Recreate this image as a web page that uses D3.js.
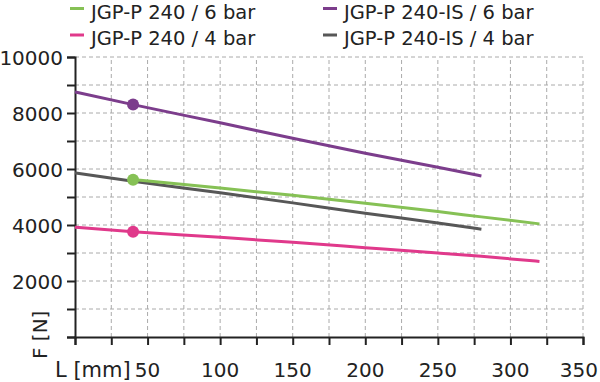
<!DOCTYPE html>
<html>
<head>
<meta charset="utf-8">
<script src="https://cdn.jsdelivr.net/npm/d3@7"></script>
<style>
  body { margin: 0; background: #fff; }
  svg text { font-family: "DejaVu Sans", sans-serif; fill: #222; }
</style>
</head>
<body>
<div id="chart-container"></div>
<script>
// stroke (L, mm) vs force (F, N)
var xTicks = [50, 100, 150, 200, 250, 300, 350];
var yTicks = [2000, 4000, 6000, 8000, 10000];

var p240_6bar_L = [40, 100, 150, 200, 250, 280, 320];
var p240_6bar_F = [5620, 5320, 5060, 4780, 4480, 4290, 4040];

var p240_4bar_L = [0, 40, 100, 150, 200, 250, 280, 320];
var p240_4bar_F = [3920, 3760, 3560, 3380, 3190, 3000, 2880, 2700];

var p240is_6bar_L = [0, 40, 100, 150, 200, 250, 280];
var p240is_6bar_F = [8750, 8300, 7650, 7100, 6560, 6060, 5750];

var p240is_4bar_L = [0, 40, 100, 150, 200, 250, 280];
var p240is_4bar_F = [5860, 5560, 5150, 4790, 4420, 4070, 3850];

var dotL = 40;

var series = [
  {name: "JGP-P 240 / 6 bar", color: "#86c155", L: p240_6bar_L, F: p240_6bar_F, dot: true},
  {name: "JGP-P 240 / 4 bar", color: "#e0398b", L: p240_4bar_L, F: p240_4bar_F, dot: true},
  {name: "JGP-P 240-IS / 6 bar", color: "#7c3d8c", L: p240is_6bar_L, F: p240is_6bar_F, dot: true},
  {name: "JGP-P 240-IS / 4 bar", color: "#575757", L: p240is_4bar_L, F: p240is_4bar_F, dot: false}
];

var svg = d3.select("#chart-container").append("svg").attr("width", 600).attr("height", 382)

var x = d3.scaleLinear().domain([0, 350]).range([75, 583]);
var y = d3.scaleLinear().domain([0, 10000]).range([337, 57]);

// grid
var grid = svg.append("g").attr("class", "grid")
grid.selectAll("line.v").data(d3.range(25, 351, 25)).enter().append("line")
  .attr("x1", function(d) { return x(d); }).attr("x2", function(d) { return x(d); })
  .attr("y1", y(0)).attr("y2", y(10000))
  .attr("stroke", "#aaa").attr("stroke-width", 1).attr("stroke-dasharray", "4,3")
grid.selectAll("line.h").data(d3.range(1000, 10001, 1000)).enter().append("line")
  .attr("y1", function(d) { return y(d); }).attr("y2", function(d) { return y(d); })
  .attr("x1", x(0)).attr("x2", x(350))
  .attr("stroke", "#aaa").attr("stroke-width", 1).attr("stroke-dasharray", "4,3")

// axes
var xAxis = d3.axisBottom(x).tickValues(d3.range(0, 351, 25)).tickSize(8).tickFormat("")
var yAxis = d3.axisLeft(y).tickValues(d3.range(0, 10001, 1000)).tickSize(8).tickFormat("")
svg.append("g").attr("transform", "translate(0," + y(0) + ")").call(xAxis)
  .call(function(g) { g.select(".domain").attr("stroke", "#222").attr("stroke-width", 2); g.selectAll(".tick line").attr("stroke", "#222").attr("stroke-width", 2); })
svg.append("g").attr("transform", "translate(" + x(0) + ",0)").call(yAxis)
  .call(function(g) { g.select(".domain").attr("stroke", "#222").attr("stroke-width", 2); g.selectAll(".tick line").attr("stroke", "#222").attr("stroke-width", 2); })

// last label sits against the right edge, so anchor it at its end
svg.selectAll("text.xl").data(xTicks).enter().append("text")
  .attr("x", function(d, i) { return i == xTicks.length - 1 ? 598 : x(d); }).attr("y", 377)
  .attr("text-anchor", function(d, i) { return i == xTicks.length - 1 ? "end" : "middle"; })
  .style("font-size", "20px")
  .text(function(d) { return d; })
svg.selectAll("text.yl").data(yTicks).enter().append("text")
  .attr("x", 63).attr("y", function(d) { return y(d) + 7.5; })
  .attr("text-anchor", "end").style("font-size", "20px")
  .text(function(d) { return d; })

svg.append("text").attr("x", 55).attr("y", 377).style("font-size", "21px").text("L [mm]")
svg.append("text").attr("transform", "translate(47,359) rotate(-90)").style("font-size", "20px").text("F [N]")

// lines
var line = d3.line().curve(d3.curveMonotoneX)
  .x(function(d) { return x(d[0]); }).y(function(d) { return y(d[1]); })

series.slice().reverse().forEach(function(s) {
  var pts = s.L.map(function(l, i) { return [l, s.F[i]]; });
  svg.append("path").datum(pts).attr("d", line)
    .attr("fill", "none").attr("stroke", s.color).attr("stroke-width", 3)
});
series.forEach(function(s) {
  if (!s.dot) return;
  var i = s.L.indexOf(dotL);
  svg.append("circle").attr("cx", x(dotL)).attr("cy", y(s.F[i])).attr("r", 6).attr("fill", s.color)
});

// legend
var legend = svg.append("g").attr("class", "legend")
series.forEach(function(s, i) {
  var col = i < 2 ? 0 : 1, row = i % 2;
  var lx = col == 0 ? 70 : 323, ly = row == 0 ? 18.5 : 45;
  legend.append("line").attr("x1", lx).attr("x2", lx + 14).attr("y1", ly - 10).attr("y2", ly - 10)
    .attr("stroke", s.color).attr("stroke-width", 3)
  legend.append("text").attr("x", lx + 21).attr("y", ly).style("font-size", "19.5px").text(s.name)
});
</script>
</body>
</html>
